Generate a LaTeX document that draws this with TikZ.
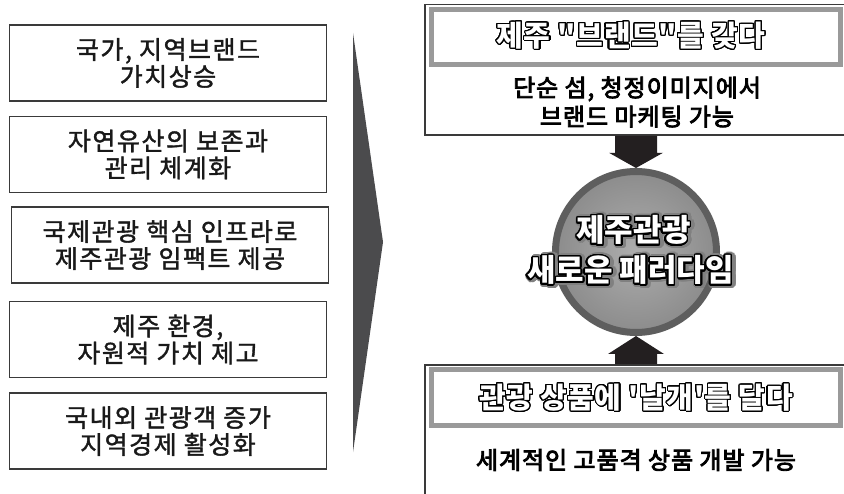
\documentclass[tikz,border=0pt]{standalone}
\usepackage{fontspec}
\newfontfamily\krfont{Noto Sans CJK KR}
\usepackage{contour}
\contournumber{32}
\usetikzlibrary{calc}
\definecolor{linegray}{HTML}{3A3A3A}
\definecolor{wedgegray}{HTML}{4B4B4D}
\definecolor{framegray}{HTML}{9A9A9A}
\definecolor{arrowblack}{HTML}{231F20}
\definecolor{ringgray}{HTML}{5E5E5E}
\definecolor{fillin}{HTML}{ADADAD}
\definecolor{fillout}{HTML}{8C8C8C}
\newcommand{\hollowtext}[1]{\contourlength{1.1pt}\textcolor{white}{\contour{black}{#1}}}
\newcommand{\halotext}[1]{\contourlength{3.5pt}\textcolor{black!55}{\contour{black!50}{#1}}}
\newcommand{\boldwhite}[1]{\contourlength{1.4pt}\textcolor{white}{\contour{black}{#1}}}
\tikzset{
  leftbox/.style={draw=linegray, line width=1.6pt, minimum width=317pt, minimum height=76pt,
    align=center, font=\krfont\fontsize{25}{27}\selectfont\addfontfeatures{FakeBold=1.5,LetterSpace=6}, text=black!90, inner sep=0pt},
  outerframe/.style={draw=linegray, line width=1.6pt, minimum width=422pt, inner sep=0pt},
  titleframe/.style={draw=framegray, line width=5pt, minimum width=409pt, inner sep=0pt},
  titletext/.style={font=\krfont\fontsize{29}{32}\bfseries\selectfont\addfontfeatures{LetterSpace=2}, inner sep=0pt},
  desctext/.style={font=\krfont\fontsize{24}{29}\selectfont\addfontfeatures{FakeBold=3.5,LetterSpace=4}, align=center, text=black, inner sep=0pt},
  circtext/.style={font=\krfont\fontsize{31}{34}\bfseries\selectfont, inner sep=0pt},
  blockarrow/.style={fill=arrowblack}
}
\begin{document}
\begin{tikzpicture}[x=1pt,y=-1pt]
\useasboundingbox (0,0) rectangle (844,494);
\fill[white] (0,0) rectangle (844,494);
% left boxes
\node[leftbox] (b1) at (168,63) {국가, 지역브랜드\\가치상승};
\node[leftbox] (b2) at (168,154.5) {자연유산의 보존과\\관리 체계화};
\node[leftbox] (b3) at (170,245) {국제관광 핵심 인프라로\\제주관광 임팩트 제공};
\node[leftbox] (b4) at (168,339.5) {제주 환경,\\자원적 가치 제고};
\node[leftbox] (b5) at (168,431) {국내외 관광객 증가\\지역경제 활성화};
% wedge
\fill[wedgegray] (353,33) -- (383,242) -- (353,452) -- cycle;
% top right box
\node[outerframe, minimum height=130.5pt] (topbox) at (636,69.75) {};
\node[titleframe, minimum height=55pt] (toptitle) at (636,37) {};
\node[titletext] (toptitletext) at (631,36) {\hollowtext{제주 "브랜드"를 갖다}};
\node[desctext] (topdesc) at (637,102) {단순 섬, 청정이미지에서\\브랜드 마케팅 가능};
% bottom right box
\node[outerframe, minimum height=145pt] (botbox) at (636,437.5) {};
\node[titleframe, minimum height=56pt] (bottitle) at (636,397.5) {};
\node[titletext] (bottitletext) at (636,398) {\hollowtext{관광 상품에 '날개'를 달다}};
\node[desctext] (botdesc) at (636,460) {세계적인 고품격 상품 개발 가능};
% circle
\node[circle, draw=ringgray, line width=7pt, minimum size=161pt, inner color=fillin, outer color=fillout] (circ) at (636,252) {};
\node[circtext] (ct1s) at (635,232.5) {\halotext{제주관광}};
\node[circtext] (ct2s) at (632,272.5) {\halotext{새로운 패러다임}};
\node[circtext] (ct1) at (633.5,231) {\boldwhite{제주관광}};
\node[circtext] (ct2) at (630.5,271) {\boldwhite{새로운 패러다임}};
% arrows
\fill[blockarrow] ($(topbox.south)+(-21,0)$) -- ($(topbox.south)+(21,0)$) -- ($(topbox.south)+(21,17)$)
  -- ($(topbox.south)+(27,17)$) -- (circ.north) -- ($(topbox.south)+(-27,17)$) -- ($(topbox.south)+(-21,17)$) -- cycle;
\fill[blockarrow] ($(botbox.north)+(-21,0)$) -- ($(botbox.north)+(21,0)$) -- ($(circ.south)+(21,18)$)
  -- ($(circ.south)+(28,18)$) -- (circ.south) -- ($(circ.south)+(-28,18)$) -- ($(circ.south)+(-21,18)$) -- cycle;
\end{tikzpicture}
\end{document}
